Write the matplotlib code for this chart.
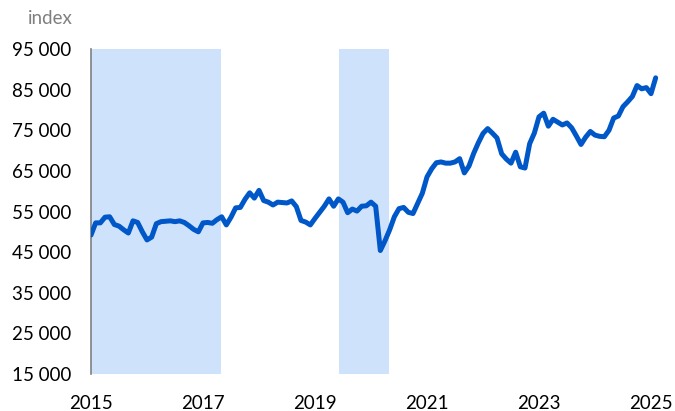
import numpy as np
import matplotlib.pyplot as plt
from matplotlib.ticker import FuncFormatter

# DATA: monthly index, Jan 2015 .. Feb 2025
start_year = 2015
values = [
    49200, 52200, 52200, 53600, 53700, 51800, 51400, 50500, 49700, 52700, 52300, 50000,
    48000, 48700, 52000, 52500, 52600, 52700, 52500, 52700, 52300, 51500, 50600, 50000,
    52200, 52300, 52100, 53000, 53700, 51700, 53600, 55900, 56000, 58000, 59600, 58300,
    60200, 57700, 57300, 56600, 57300, 57200, 57100, 57600, 56200, 52800, 52400, 51700,
    53300, 54800, 56300, 58100, 56300, 58100, 57300, 54700, 55600, 55100, 56300, 56400,
    57300, 56300, 45400, 47800, 50500, 53700, 55700, 56000, 54800, 54500, 57000, 59500,
    63500, 65500, 67000, 67200, 66900, 66900, 67200, 68000, 64500, 66200, 69300, 71900,
    74200, 75400, 74300, 73100, 69200, 67900, 66900, 69600, 66000, 65700, 71700, 74300,
    78300, 79200, 76000, 77700, 77000, 76300, 76800, 75600, 73600, 71500, 73300, 74700,
    73800, 73500, 73400, 75000, 78000, 78500, 80800, 82000, 83300, 86000, 85200, 85500,
    84000, 87900,
]
# shaded periods (decimal years)
shade_periods = [(2015.0, 2017.33), (2019.42, 2020.33)]
year_ticks = [2015, 2017, 2019, 2021, 2023, 2025]
y_ticks = [15000, 25000, 35000, 45000, 55000, 65000, 75000, 85000, 95000]

t = start_year + np.arange(len(values)) / 12.0

plt.rcParams['font.family'] = ['Lato', 'DejaVu Sans']
fig = plt.figure(figsize=(6.75, 4.11), dpi=100)
ax = fig.add_axes([91/675, 0.090, (10.2*56)/675, 0.7908])

for a, b in shade_periods:
    ax.axvspan(a, b, color='#cfe2fc', lw=0, zorder=0)

ax.plot(t, values, color='#0057c8', lw=3.6, solid_joinstyle='round', solid_capstyle='round', zorder=3)

ax.set_xlim(2015, 2025.2)
ax.set_ylim(15000, 95000)
ax.set_xticks(year_ticks)
ax.set_yticks(y_ticks)
ax.yaxis.set_major_formatter(FuncFormatter(lambda v, p: f'{int(v):,}'.replace(',', ' ')))
ax.tick_params(axis='both', length=0, labelsize=13.5, colors='black')
ax.tick_params(axis='y', pad=14)
ax.tick_params(axis='x', pad=15)

for s in ['top', 'right', 'bottom']:
    ax.spines[s].set_visible(False)
ax.spines['left'].set_color('#808080')
ax.spines['left'].set_linewidth(1.2)

fig.text(28/675, 1 - 18/411, 'index', color='#7f7f7f', fontsize=13.5, va='center', ha='left')

fig.savefig('out.png', dpi=100)
